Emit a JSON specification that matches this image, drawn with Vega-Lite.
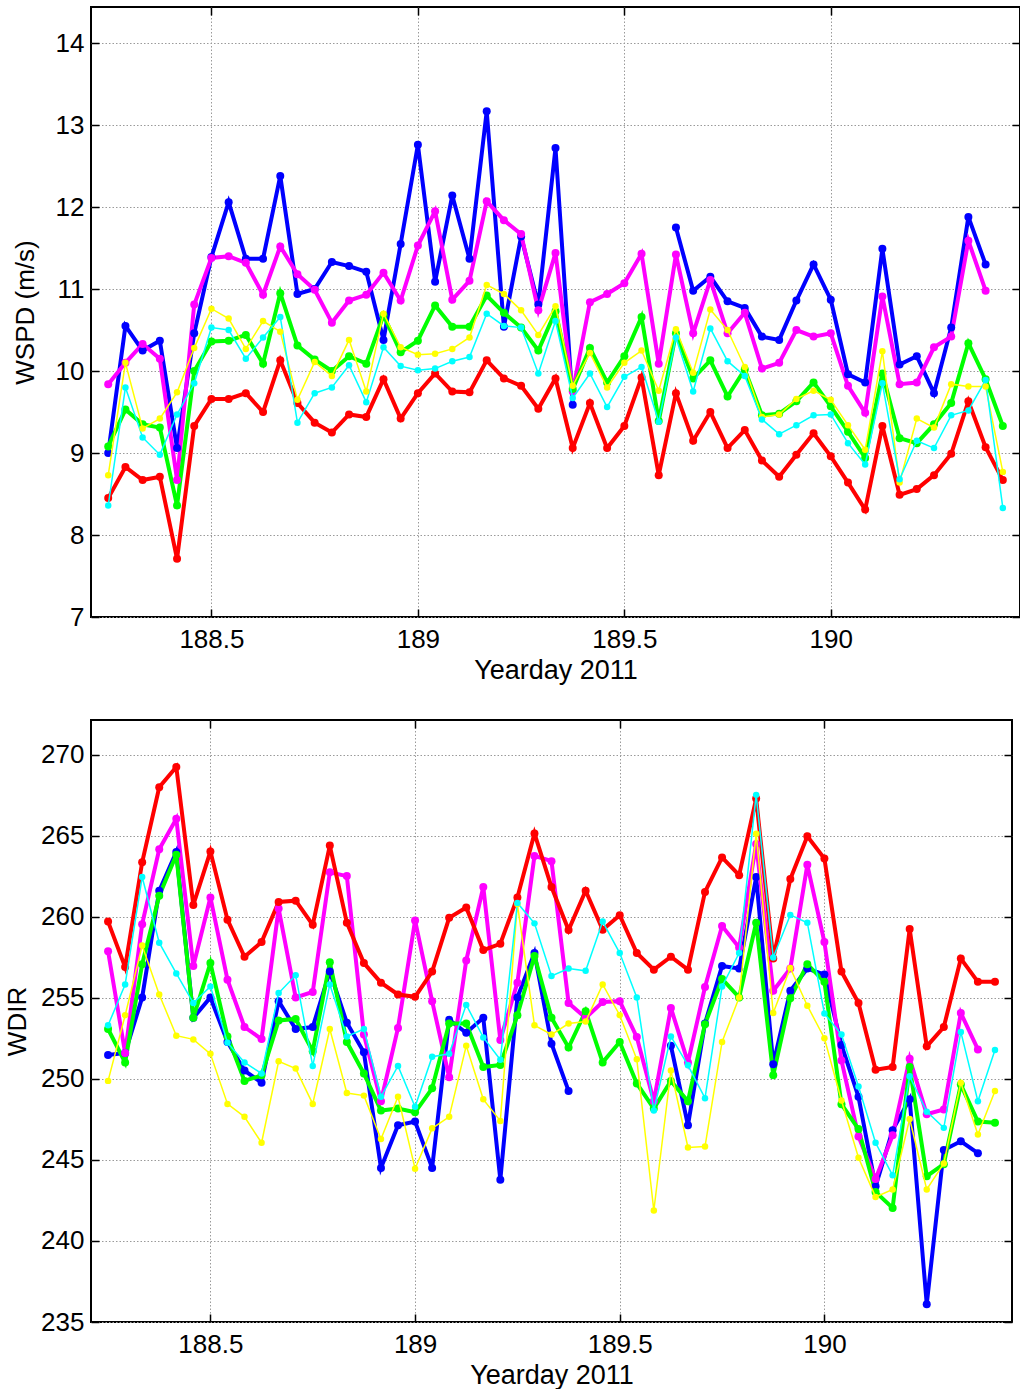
{
"$schema": "https://vega.github.io/schema/vega-lite/v6.json",
"background": "white",
"padding": {"left": 3, "top": 5, "right": 0, "bottom": 0},
"spacing": 34,
"config": {
  "font": "Liberation Sans",
  "view": {"stroke": "black", "strokeWidth": 2},
  "axis": {"domain": false, "grid": true, "gridColor": "#9a9a9a", "gridDash": [1.5, 2], "gridWidth": 1, "ticks": true, "tickColor": "black", "tickWidth": 1.5, "tickSize": -8, "labelFont": "Liberation Sans", "labelFontSize": 26, "labelColor": "black", "labelFlush": false, "labelOverlap": false, "titleFont": "Liberation Sans", "titleFontSize": 26, "titleFontWeight": "normal", "titleColor": "black"}
},
"data": {"values": [
{"t":188.25,"s":"blue","w":9.0,"d":251.48},{"t":188.2917,"s":"blue","w":10.55,"d":251.6},{"t":188.3333,"s":"blue","w":10.25,"d":255.03},{"t":188.375,"s":"blue","w":10.37,"d":261.61},{"t":188.4167,"s":"blue","w":9.06,"d":264.01},{"t":188.4583,"s":"blue","w":10.46,"d":253.77},{"t":188.5,"s":"blue","w":11.39,"d":255.03},{"t":188.5417,"s":"blue","w":12.06,"d":252.28},{"t":188.5833,"s":"blue","w":11.37,"d":250.52},{"t":188.625,"s":"blue","w":11.37,"d":249.77},{"t":188.6667,"s":"blue","w":12.38,"d":254.8},{"t":188.7083,"s":"blue","w":10.94,"d":253.08},{"t":188.75,"s":"blue","w":11.0,"d":253.2},{"t":188.7917,"s":"blue","w":11.33,"d":256.63},{"t":188.8333,"s":"blue","w":11.28,"d":253.47},{"t":188.875,"s":"blue","w":11.21,"d":251.64},{"t":188.9167,"s":"blue","w":10.38,"d":244.51},{"t":188.9583,"s":"blue","w":11.55,"d":247.14},{"t":189,"s":"blue","w":12.76,"d":247.37},{"t":189.0417,"s":"blue","w":11.09,"d":244.51},{"t":189.0833,"s":"blue","w":12.14,"d":253.65},{"t":189.125,"s":"blue","w":11.37,"d":252.85},{"t":189.1667,"s":"blue","w":13.17,"d":253.77},{"t":189.2083,"s":"blue","w":10.54,"d":243.78},{"t":189.25,"s":"blue","w":11.64,"d":255.03},{"t":189.2917,"s":"blue","w":10.81,"d":257.77},{"t":189.3333,"s":"blue","w":12.72,"d":252.17},{"t":189.375,"s":"blue","w":9.59,"d":249.26},{"t":189.4167,"s":"blue","w":null,"d":null},{"t":189.4583,"s":"blue","w":null,"d":null},{"t":189.5,"s":"blue","w":null,"d":null},{"t":189.5417,"s":"blue","w":null,"d":null},{"t":189.5833,"s":"blue","w":null,"d":null},{"t":189.625,"s":"blue","w":11.75,"d":252.05},{"t":189.6667,"s":"blue","w":10.98,"d":247.14},{"t":189.7083,"s":"blue","w":11.15,"d":253.42},{"t":189.75,"s":"blue","w":10.85,"d":256.97},{"t":189.7917,"s":"blue","w":10.77,"d":256.81},{"t":189.8333,"s":"blue","w":10.42,"d":262.46},{"t":189.875,"s":"blue","w":10.38,"d":250.91},{"t":189.9167,"s":"blue","w":10.86,"d":255.44},{"t":189.9583,"s":"blue","w":11.30,"d":256.81},{"t":190,"s":"blue","w":10.87,"d":256.44},{"t":190.0417,"s":"blue","w":9.96,"d":252.1},{"t":190.0833,"s":"blue","w":9.86,"d":248.9},{"t":190.125,"s":"blue","w":11.49,"d":243.37},{"t":190.1667,"s":"blue","w":10.08,"d":246.84},{"t":190.2083,"s":"blue","w":10.18,"d":248.74},{"t":190.25,"s":"blue","w":9.73,"d":236.1},{"t":190.2917,"s":"blue","w":10.53,"d":245.61},{"t":190.3333,"s":"blue","w":11.88,"d":246.15},{"t":190.375,"s":"blue","w":11.30,"d":245.42},
{"t":188.25,"s":"magenta","w":9.84,"d":257.88},{"t":188.2917,"s":"magenta","w":10.1,"d":251.6},{"t":188.3333,"s":"magenta","w":10.33,"d":259.55},{"t":188.375,"s":"magenta","w":10.15,"d":264.17},{"t":188.4167,"s":"magenta","w":8.67,"d":266.05},{"t":188.4583,"s":"magenta","w":10.81,"d":256.97},{"t":188.5,"s":"magenta","w":11.38,"d":261.2},{"t":188.5417,"s":"magenta","w":11.40,"d":256.12},{"t":188.5833,"s":"magenta","w":11.32,"d":253.2},{"t":188.625,"s":"magenta","w":10.93,"d":252.46},{"t":188.6667,"s":"magenta","w":11.52,"d":260.51},{"t":188.7083,"s":"magenta","w":11.18,"d":255.03},{"t":188.75,"s":"magenta","w":10.99,"d":255.37},{"t":188.7917,"s":"magenta","w":10.59,"d":262.75},{"t":188.8333,"s":"magenta","w":10.86,"d":262.52},{"t":188.875,"s":"magenta","w":10.93,"d":252.74},{"t":188.9167,"s":"magenta","w":11.20,"d":248.62},{"t":188.9583,"s":"magenta","w":10.86,"d":253.15},{"t":189,"s":"magenta","w":11.53,"d":259.78},{"t":189.0417,"s":"magenta","w":11.95,"d":254.8},{"t":189.0833,"s":"magenta","w":10.87,"d":250.11},{"t":189.125,"s":"magenta","w":11.10,"d":257.31},{"t":189.1667,"s":"magenta","w":12.07,"d":261.84},{"t":189.2083,"s":"magenta","w":11.84,"d":252.4},{"t":189.25,"s":"magenta","w":11.67,"d":255.94},{"t":189.2917,"s":"magenta","w":10.74,"d":263.76},{"t":189.3333,"s":"magenta","w":11.44,"d":263.44},{"t":189.375,"s":"magenta","w":9.75,"d":254.68},{"t":189.4167,"s":"magenta","w":10.84,"d":253.77},{"t":189.4583,"s":"magenta","w":10.94,"d":254.75},{"t":189.5,"s":"magenta","w":11.07,"d":254.8},{"t":189.5417,"s":"magenta","w":11.43,"d":252.58},{"t":189.5833,"s":"magenta","w":10.09,"d":248.62},{"t":189.625,"s":"magenta","w":11.42,"d":254.38},{"t":189.6667,"s":"magenta","w":10.46,"d":251.02},{"t":189.7083,"s":"magenta","w":11.11,"d":255.67},{"t":189.75,"s":"magenta","w":10.46,"d":259.44},{"t":189.7917,"s":"magenta","w":10.71,"d":258.11},{"t":189.8333,"s":"magenta","w":10.03,"d":264.5},{"t":189.875,"s":"magenta","w":10.10,"d":255.44},{"t":189.9167,"s":"magenta","w":10.50,"d":256.81},{"t":189.9583,"s":"magenta","w":10.42,"d":263.21},{"t":190,"s":"magenta","w":10.46,"d":258.45},{"t":190.0417,"s":"magenta","w":9.82,"d":251.14},{"t":190.0833,"s":"magenta","w":9.49,"d":246.45},{"t":190.125,"s":"magenta","w":10.91,"d":243.82},{"t":190.1667,"s":"magenta","w":9.84,"d":246.52},{"t":190.2083,"s":"magenta","w":9.86,"d":251.25},{"t":190.25,"s":"magenta","w":10.29,"d":247.82},{"t":190.2917,"s":"magenta","w":10.42,"d":248.12},{"t":190.3333,"s":"magenta","w":11.59,"d":254.07},{"t":190.375,"s":"magenta","w":10.98,"d":251.82},
{"t":188.25,"s":"red","w":8.45,"d":259.71},{"t":188.2917,"s":"red","w":8.83,"d":256.9},{"t":188.3333,"s":"red","w":8.67,"d":263.37},{"t":188.375,"s":"red","w":8.71,"d":268.0},{"t":188.4167,"s":"red","w":7.71,"d":269.25},{"t":188.4583,"s":"red","w":9.33,"d":260.74},{"t":188.5,"s":"red","w":9.66,"d":264.03},{"t":188.5417,"s":"red","w":9.66,"d":259.83},{"t":188.5833,"s":"red","w":9.73,"d":257.54},{"t":188.625,"s":"red","w":9.50,"d":258.45},{"t":188.6667,"s":"red","w":10.13,"d":260.92},{"t":188.7083,"s":"red","w":9.61,"d":261.0},{"t":188.75,"s":"red","w":9.37,"d":259.51},{"t":188.7917,"s":"red","w":9.25,"d":264.4},{"t":188.8333,"s":"red","w":9.47,"d":259.64},{"t":188.875,"s":"red","w":9.44,"d":257.15},{"t":188.9167,"s":"red","w":9.90,"d":255.94},{"t":188.9583,"s":"red","w":9.42,"d":255.21},{"t":189,"s":"red","w":9.73,"d":255.07},{"t":189.0417,"s":"red","w":9.97,"d":256.63},{"t":189.0833,"s":"red","w":9.75,"d":259.94},{"t":189.125,"s":"red","w":9.74,"d":260.58},{"t":189.1667,"s":"red","w":10.13,"d":257.95},{"t":189.2083,"s":"red","w":9.91,"d":258.34},{"t":189.25,"s":"red","w":9.82,"d":261.2},{"t":189.2917,"s":"red","w":9.54,"d":265.15},{"t":189.3333,"s":"red","w":9.91,"d":261.84},{"t":189.375,"s":"red","w":9.06,"d":259.19},{"t":189.4167,"s":"red","w":9.61,"d":261.61},{"t":189.4583,"s":"red","w":9.06,"d":259.21},{"t":189.5,"s":"red","w":9.33,"d":260.1},{"t":189.5417,"s":"red","w":9.92,"d":257.77},{"t":189.5833,"s":"red","w":8.73,"d":256.74},{"t":189.625,"s":"red","w":9.73,"d":257.54},{"t":189.6667,"s":"red","w":9.15,"d":256.74},{"t":189.7083,"s":"red","w":9.50,"d":261.54},{"t":189.75,"s":"red","w":9.06,"d":263.67},{"t":189.7917,"s":"red","w":9.28,"d":262.57},{"t":189.8333,"s":"red","w":8.91,"d":267.3},{"t":189.875,"s":"red","w":8.71,"d":257.43},{"t":189.9167,"s":"red","w":8.98,"d":262.34},{"t":189.9583,"s":"red","w":9.24,"d":264.97},{"t":190,"s":"red","w":8.96,"d":263.6},{"t":190.0417,"s":"red","w":8.64,"d":256.63},{"t":190.0833,"s":"red","w":8.31,"d":254.68},{"t":190.125,"s":"red","w":9.33,"d":250.57},{"t":190.1667,"s":"red","w":8.49,"d":250.73},{"t":190.2083,"s":"red","w":8.56,"d":259.25},{"t":190.25,"s":"red","w":8.73,"d":252.01},{"t":190.2917,"s":"red","w":8.99,"d":253.2},{"t":190.3333,"s":"red","w":9.63,"d":257.43},{"t":190.375,"s":"red","w":9.07,"d":255.99},{"t":190.4167,"s":"red","w":8.67,"d":255.99},
{"t":188.25,"s":"green","w":9.08,"d":253.08},{"t":188.2917,"s":"green","w":9.53,"d":251.02},{"t":188.3333,"s":"green","w":9.35,"d":257.08},{"t":188.375,"s":"green","w":9.31,"d":261.31},{"t":188.4167,"s":"green","w":8.36,"d":263.83},{"t":188.4583,"s":"green","w":10.0,"d":253.77},{"t":188.5,"s":"green","w":10.36,"d":257.15},{"t":188.5417,"s":"green","w":10.37,"d":252.62},{"t":188.5833,"s":"green","w":10.44,"d":249.88},{"t":188.625,"s":"green","w":10.09,"d":250.22},{"t":188.6667,"s":"green","w":10.95,"d":253.61},{"t":188.7083,"s":"green","w":10.31,"d":253.70},{"t":188.75,"s":"green","w":10.14,"d":251.71},{"t":188.7917,"s":"green","w":10.0,"d":257.2},{"t":188.8333,"s":"green","w":10.18,"d":252.28},{"t":188.875,"s":"green","w":10.09,"d":250.34},{"t":188.9167,"s":"green","w":10.68,"d":248.05},{"t":188.9583,"s":"green","w":10.23,"d":248.17},{"t":189,"s":"green","w":10.37,"d":247.94},{"t":189.0417,"s":"green","w":10.80,"d":249.42},{"t":189.0833,"s":"green","w":10.54,"d":253.42},{"t":189.125,"s":"green","w":10.54,"d":253.42},{"t":189.1667,"s":"green","w":10.92,"d":250.73},{"t":189.2083,"s":"green","w":10.71,"d":250.86},{"t":189.25,"s":"green","w":10.53,"d":253.93},{"t":189.2917,"s":"green","w":10.25,"d":257.59},{"t":189.3333,"s":"green","w":10.73,"d":253.77},{"t":189.375,"s":"green","w":9.78,"d":251.94},{"t":189.4167,"s":"green","w":10.28,"d":254.18},{"t":189.4583,"s":"green","w":9.86,"d":251.02},{"t":189.5,"s":"green","w":10.18,"d":252.28},{"t":189.5417,"s":"green","w":10.66,"d":249.72},{"t":189.5833,"s":"green","w":9.39,"d":248.17},{"t":189.625,"s":"green","w":10.46,"d":249.88},{"t":189.6667,"s":"green","w":9.91,"d":248.62},{"t":189.7083,"s":"green","w":10.13,"d":253.38},{"t":189.75,"s":"green","w":9.69,"d":256.17},{"t":189.7917,"s":"green","w":10.02,"d":255.03},{"t":189.8333,"s":"green","w":9.46,"d":259.64},{"t":189.875,"s":"green","w":9.48,"d":250.22},{"t":189.9167,"s":"green","w":9.63,"d":254.98},{"t":189.9583,"s":"green","w":9.86,"d":257.08},{"t":190,"s":"green","w":9.57,"d":255.99},{"t":190.0417,"s":"green","w":9.26,"d":248.44},{"t":190.0833,"s":"green","w":8.94,"d":246.91},{"t":190.125,"s":"green","w":9.97,"d":243.02},{"t":190.1667,"s":"green","w":9.18,"d":242.04},{"t":190.2083,"s":"green","w":9.12,"d":250.73},{"t":190.25,"s":"green","w":9.35,"d":244.0},{"t":190.2917,"s":"green","w":9.61,"d":244.74},{"t":190.3333,"s":"green","w":10.34,"d":249.65},{"t":190.375,"s":"green","w":9.90,"d":247.37},{"t":190.4167,"s":"green","w":9.33,"d":247.3},
{"t":188.25,"s":"yellow","w":8.73,"d":249.88},{"t":188.2917,"s":"yellow","w":10.1,"d":253.93},{"t":188.3333,"s":"yellow","w":9.30,"d":258.23},{"t":188.375,"s":"yellow","w":9.42,"d":255.21},{"t":188.4167,"s":"yellow","w":9.74,"d":252.67},{"t":188.4583,"s":"yellow","w":10.28,"d":252.44},{"t":188.5,"s":"yellow","w":10.76,"d":251.55},{"t":188.5417,"s":"yellow","w":10.64,"d":248.46},{"t":188.5833,"s":"yellow","w":10.27,"d":247.66},{"t":188.625,"s":"yellow","w":10.61,"d":246.06},{"t":188.6667,"s":"yellow","w":10.48,"d":251.09},{"t":188.7083,"s":"yellow","w":9.65,"d":250.64},{"t":188.75,"s":"yellow","w":10.11,"d":248.46},{"t":188.7917,"s":"yellow","w":9.94,"d":253.08},{"t":188.8333,"s":"yellow","w":10.38,"d":249.13},{"t":188.875,"s":"yellow","w":9.75,"d":248.97},{"t":188.9167,"s":"yellow","w":10.70,"d":246.29},{"t":188.9583,"s":"yellow","w":10.29,"d":248.9},{"t":189,"s":"yellow","w":10.20,"d":244.46},{"t":189.0417,"s":"yellow","w":10.21,"d":246.95},{"t":189.0833,"s":"yellow","w":10.27,"d":247.66},{"t":189.125,"s":"yellow","w":10.41,"d":252.05},{"t":189.1667,"s":"yellow","w":11.05,"d":248.74},{"t":189.2083,"s":"yellow","w":10.94,"d":247.41},{"t":189.25,"s":"yellow","w":10.74,"d":260.79},{"t":189.2917,"s":"yellow","w":10.44,"d":253.31},{"t":189.3333,"s":"yellow","w":10.79,"d":252.74},{"t":189.375,"s":"yellow","w":9.82,"d":253.42},{"t":189.4167,"s":"yellow","w":10.22,"d":253.54},{"t":189.4583,"s":"yellow","w":9.80,"d":255.83},{"t":189.5,"s":"yellow","w":10.1,"d":253.93},{"t":189.5417,"s":"yellow","w":10.25,"d":251.21},{"t":189.5833,"s":"yellow","w":9.76,"d":241.88},{"t":189.625,"s":"yellow","w":10.51,"d":250.52},{"t":189.6667,"s":"yellow","w":9.98,"d":245.77},{"t":189.7083,"s":"yellow","w":10.75,"d":245.83},{"t":189.75,"s":"yellow","w":10.50,"d":252.28},{"t":189.7917,"s":"yellow","w":10.05,"d":255.03},{"t":189.8333,"s":"yellow","w":9.44,"d":265.13},{"t":189.875,"s":"yellow","w":9.47,"d":254.07},{"t":189.9167,"s":"yellow","w":9.66,"d":256.85},{"t":189.9583,"s":"yellow","w":9.76,"d":254.52},{"t":190,"s":"yellow","w":9.65,"d":252.51},{"t":190.0417,"s":"yellow","w":9.34,"d":248.67},{"t":190.0833,"s":"yellow","w":9.04,"d":245.14},{"t":190.125,"s":"yellow","w":10.24,"d":242.72},{"t":190.1667,"s":"yellow","w":8.64,"d":243.18},{"t":190.2083,"s":"yellow","w":9.42,"d":247.53},{"t":190.25,"s":"yellow","w":9.31,"d":243.18},{"t":190.2917,"s":"yellow","w":9.84,"d":244.78},{"t":190.3333,"s":"yellow","w":9.81,"d":249.77},{"t":190.375,"s":"yellow","w":9.81,"d":246.57},{"t":190.4167,"s":"yellow","w":8.77,"d":249.26},
{"t":188.25,"s":"cyan","w":8.36,"d":253.31},{"t":188.2917,"s":"cyan","w":9.80,"d":255.83},{"t":188.3333,"s":"cyan","w":9.19,"d":262.46},{"t":188.375,"s":"cyan","w":8.98,"d":258.41},{"t":188.4167,"s":"cyan","w":9.47,"d":256.51},{"t":188.4583,"s":"cyan","w":9.85,"d":254.68},{"t":188.5,"s":"cyan","w":10.53,"d":255.71},{"t":188.5417,"s":"cyan","w":10.50,"d":252.24},{"t":188.5833,"s":"cyan","w":10.15,"d":251.02},{"t":188.625,"s":"cyan","w":10.41,"d":250.34},{"t":188.6667,"s":"cyan","w":10.66,"d":255.3},{"t":188.7083,"s":"cyan","w":9.37,"d":256.4},{"t":188.75,"s":"cyan","w":9.73,"d":250.8},{"t":188.7917,"s":"cyan","w":9.80,"d":255.83},{"t":188.8333,"s":"cyan","w":10.07,"d":252.62},{"t":188.875,"s":"cyan","w":9.62,"d":253.08},{"t":188.9167,"s":"cyan","w":10.29,"d":248.9},{"t":188.9583,"s":"cyan","w":10.06,"d":250.8},{"t":189,"s":"cyan","w":10.01,"d":248.28},{"t":189.0417,"s":"cyan","w":10.03,"d":251.37},{"t":189.0833,"s":"cyan","w":10.12,"d":251.55},{"t":189.125,"s":"cyan","w":10.17,"d":254.57},{"t":189.1667,"s":"cyan","w":10.70,"d":252.56},{"t":189.2083,"s":"cyan","w":10.55,"d":251.18},{"t":189.25,"s":"cyan","w":10.53,"d":260.86},{"t":189.2917,"s":"cyan","w":9.97,"d":259.6},{"t":189.3333,"s":"cyan","w":10.61,"d":256.35},{"t":189.375,"s":"cyan","w":9.67,"d":256.81},{"t":189.4167,"s":"cyan","w":9.97,"d":256.67},{"t":189.4583,"s":"cyan","w":9.56,"d":259.71},{"t":189.5,"s":"cyan","w":9.93,"d":257.77},{"t":189.5417,"s":"cyan","w":10.05,"d":255.03},{"t":189.5833,"s":"cyan","w":9.38,"d":248.05},{"t":189.625,"s":"cyan","w":10.41,"d":252.62},{"t":189.6667,"s":"cyan","w":9.75,"d":250.84},{"t":189.7083,"s":"cyan","w":10.52,"d":248.81},{"t":189.75,"s":"cyan","w":10.12,"d":255.71},{"t":189.7917,"s":"cyan","w":9.94,"d":257.77},{"t":189.8333,"s":"cyan","w":9.41,"d":267.53},{"t":189.875,"s":"cyan","w":9.23,"d":257.49},{"t":189.9167,"s":"cyan","w":9.34,"d":260.12},{"t":189.9583,"s":"cyan","w":9.46,"d":259.64},{"t":190,"s":"cyan","w":9.47,"d":254.04},{"t":190.0417,"s":"cyan","w":9.12,"d":252.74},{"t":190.0833,"s":"cyan","w":8.86,"d":249.54},{"t":190.125,"s":"cyan","w":9.85,"d":246.06},{"t":190.1667,"s":"cyan","w":8.68,"d":244.05},{"t":190.2083,"s":"cyan","w":9.15,"d":250.16},{"t":190.25,"s":"cyan","w":9.06,"d":247.98},{"t":190.2917,"s":"cyan","w":9.46,"d":246.98},{"t":190.3333,"s":"cyan","w":9.52,"d":252.9},{"t":190.375,"s":"cyan","w":9.89,"d":248.62},{"t":190.4167,"s":"cyan","w":8.33,"d":251.78}
]},
"vconcat": [
 {
  "width": 929, "height": 610,
  "resolve": {"axis": {"x": "independent", "y": "independent"}},
  "layer": [
   {
    "transform": [{"filter": {"field": "s", "oneOf": ["blue", "magenta", "red", "green"]}}],
    "mark": {"type": "line", "strokeWidth": 4, "invalid": "break-paths-filter-domains", "point": {"filled": true, "size": 64}},
    "encoding": {
     "x": {"field": "t", "type": "quantitative", "scale": {"domain": [188.2083, 190.4583], "nice": false, "zero": false}, "axis": {"orient": "bottom", "values": [188.5, 189, 189.5, 190], "labelExpr": "'' + datum.value", "labelPadding": 17, "title": "Yearday 2011", "titleFontSize": 27, "titlePadding": 5}},
     "y": {"field": "w", "type": "quantitative", "scale": {"domain": [7, 14.44], "nice": false, "zero": false}, "axis": {"orient": "left", "values": [7, 8, 9, 10, 11, 12, 13, 14], "labelExpr": "'' + datum.value", "labelPadding": 15, "title": "WSPD (m/s)", "titleX": -53}},
     "color": {"field": "s", "type": "nominal", "scale": {"domain": ["blue", "magenta", "red", "green", "yellow", "cyan"], "range": ["#0000ff", "#ff00ff", "#ff0000", "#00ff00", "#ffff00", "#00ffff"]}, "legend": null}
    }
   },
   {
    "transform": [{"filter": {"field": "s", "oneOf": ["yellow", "cyan"]}}],
    "mark": {"type": "line", "strokeWidth": 1.5, "invalid": "break-paths-filter-domains", "point": {"filled": true, "size": 42}},
    "encoding": {
     "x": {"field": "t", "type": "quantitative", "scale": {"domain": [188.2083, 190.4583], "nice": false, "zero": false}, "axis": {"orient": "top", "values": [188.5, 189, 189.5, 190], "labels": false, "grid": false, "title": null}},
     "y": {"field": "w", "type": "quantitative", "scale": {"domain": [7, 14.44], "nice": false, "zero": false}, "axis": {"orient": "right", "values": [7, 8, 9, 10, 11, 12, 13, 14], "labels": false, "grid": false, "title": null}},
     "color": {"field": "s", "type": "nominal", "scale": {"domain": ["blue", "magenta", "red", "green", "yellow", "cyan"], "range": ["#0000ff", "#ff00ff", "#ff0000", "#00ff00", "#ffff00", "#00ffff"]}, "legend": null}
    }
   }
  ]
 },
 {
  "width": 921, "height": 602,
  "resolve": {"axis": {"x": "independent", "y": "independent"}},
  "layer": [
   {
    "transform": [{"filter": {"field": "s", "oneOf": ["blue", "magenta", "red", "green"]}}],
    "mark": {"type": "line", "strokeWidth": 4, "invalid": "break-paths-filter-domains", "point": {"filled": true, "size": 64}},
    "encoding": {
     "x": {"field": "t", "type": "quantitative", "scale": {"domain": [188.2083, 190.4583], "nice": false, "zero": false}, "axis": {"orient": "bottom", "values": [188.5, 189, 189.5, 190], "labelExpr": "'' + datum.value", "labelPadding": 17, "title": "Yearday 2011", "titleFontSize": 27, "titlePadding": 5}},
     "y": {"field": "d", "type": "quantitative", "scale": {"domain": [235, 272.15], "nice": false, "zero": false}, "axis": {"orient": "left", "values": [235, 240, 245, 250, 255, 260, 265, 270], "labelExpr": "'' + datum.value", "labelPadding": 15, "title": "WDIR", "titleX": -61}},
     "color": {"field": "s", "type": "nominal", "scale": {"domain": ["blue", "magenta", "red", "green", "yellow", "cyan"], "range": ["#0000ff", "#ff00ff", "#ff0000", "#00ff00", "#ffff00", "#00ffff"]}, "legend": null}
    }
   },
   {
    "transform": [{"filter": {"field": "s", "oneOf": ["yellow", "cyan"]}}],
    "mark": {"type": "line", "strokeWidth": 1.5, "invalid": "break-paths-filter-domains", "point": {"filled": true, "size": 42}},
    "encoding": {
     "x": {"field": "t", "type": "quantitative", "scale": {"domain": [188.2083, 190.4583], "nice": false, "zero": false}, "axis": {"orient": "top", "values": [188.5, 189, 189.5, 190], "labels": false, "grid": false, "title": null}},
     "y": {"field": "d", "type": "quantitative", "scale": {"domain": [235, 272.15], "nice": false, "zero": false}, "axis": {"orient": "right", "values": [235, 240, 245, 250, 255, 260, 265, 270], "labels": false, "grid": false, "title": null}},
     "color": {"field": "s", "type": "nominal", "scale": {"domain": ["blue", "magenta", "red", "green", "yellow", "cyan"], "range": ["#0000ff", "#ff00ff", "#ff0000", "#00ff00", "#ffff00", "#00ffff"]}, "legend": null}
    }
   }
  ]
 }
]
}
